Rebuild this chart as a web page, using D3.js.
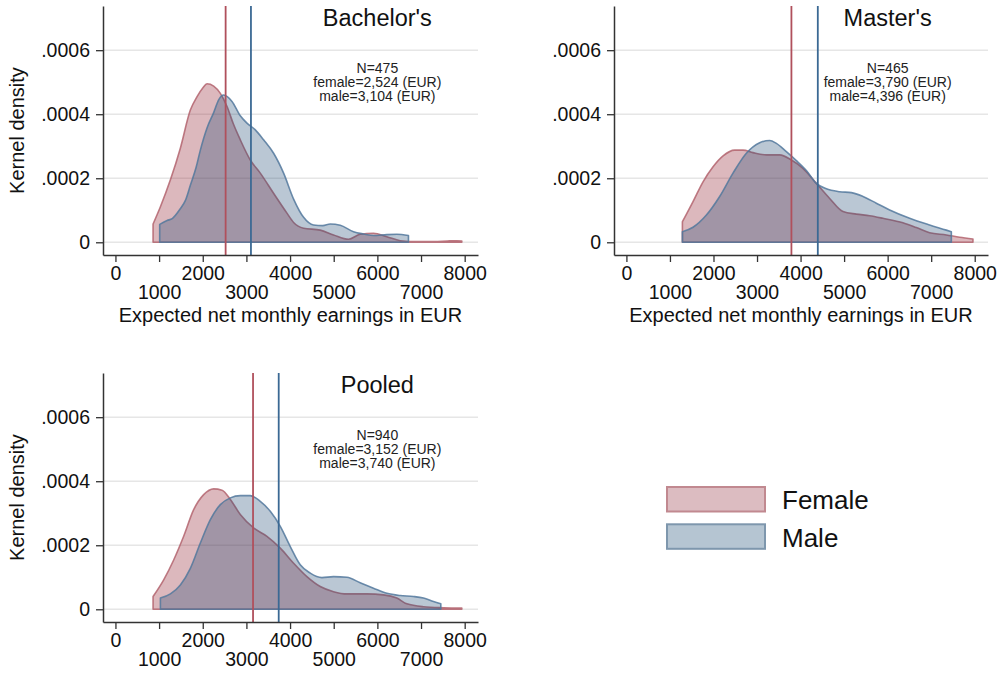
<!DOCTYPE html>
<html>
<head>
<meta charset="utf-8">
<script src="https://cdn.jsdelivr.net/npm/d3@7"></script>
<style>
  html, body { margin: 0; padding: 0; background: #fff; }
  svg { display: block; font-family: "Liberation Sans", Arial, sans-serif; }
</style>
</head>
<body>
<svg id="chart" width="998" height="673"></svg>
<script>
// Kernel density estimates of expected net monthly earnings (EUR), by gender.
// Each series: [earnings, density]
const bachelorFemale = [[862,0.000057],[1030,0.000111],[1259,0.000195],[1487,0.000294],[1716,0.000413],[1870,0.000455],[2000,0.000482],[2098,0.000495],[2250,0.000488],[2403,0.000465],[2556,0.000424],[2700,0.000370],[2860,0.000320],[3089,0.000257],[3318,0.000216],[3622,0.000153],[3929,0.000091],[4081,0.000062],[4310,0.000044],[4691,0.000038],[4996,0.000023],[5339,0.0000094],[5606,0.000025],[5911,0.000028],[6217,0.0000175],[6522,0.000005],[6903,0.000002],[7300,0.000002],[7600,0.000004],[7819,0.000005],[7934,0.000004]];
const bachelorMale = [[1014,0.000056],[1183,0.000068],[1300,0.000074],[1487,0.000105],[1600,0.000130],[1716,0.000178],[1850,0.000235],[1945,0.000288],[2100,0.000358],[2250,0.000405],[2364,0.000445],[2478,0.000460],[2670,0.000440],[2860,0.000395],[3013,0.000372],[3204,0.000351],[3394,0.000320],[3623,0.000278],[3852,0.000216],[4081,0.000135],[4310,0.000078],[4538,0.000054],[4750,0.000052],[4920,0.000057],[5149,0.000053],[5454,0.000033],[5682,0.000026],[5911,0.000021],[6217,0.000024],[6446,0.000025],[6712,0.000021]];
const masterFemale = [[1286,0.000064],[1530,0.000127],[1760,0.000189],[1990,0.000236],[2220,0.000270],[2487,0.000288],[2678,0.000288],[2907,0.000280],[3215,0.000273],[3520,0.000273],[3789,0.000257],[4055,0.000231],[4363,0.000184],[4668,0.000137],[4974,0.000096],[5281,0.000088],[5587,0.000083],[5892,0.000075],[6351,0.000061],[6659,0.000046],[6964,0.000030],[7348,0.000023],[7653,0.0000156],[7959,0.0000103]];
const masterMale = [[1286,0.000033],[1530,0.000047],[1837,0.000085],[2142,0.000143],[2448,0.000216],[2755,0.000278],[3061,0.000311],[3290,0.000318],[3444,0.000309],[3674,0.000283],[3904,0.000255],[4133,0.000224],[4363,0.000184],[4592,0.000167],[4898,0.000158],[5167,0.000155],[5433,0.000143],[5740,0.000122],[6046,0.000101],[6505,0.000075],[6964,0.000054],[7348,0.000038],[7463,0.000033]];
const pooledFemale = [[862,0.000040],[1105,0.000092],[1334,0.000154],[1563,0.000228],[1792,0.000311],[2021,0.000358],[2250,0.000376],[2441,0.000372],[2632,0.000343],[2860,0.000296],[3165,0.000254],[3471,0.000228],[3776,0.000191],[4081,0.000144],[4386,0.000102],[4691,0.000071],[4996,0.000055],[5302,0.000048],[5759,0.000048],[6140,0.000045],[6446,0.000035],[6675,0.000017],[7056,0.000008],[7513,0.000005],[7934,0.000004]];
const pooledMale = [[1030,0.000035],[1259,0.000048],[1487,0.000076],[1716,0.000128],[1945,0.000207],[2174,0.000280],[2403,0.000327],[2632,0.000348],[2860,0.000355],[3089,0.000355],[3318,0.000337],[3547,0.000306],[3776,0.000259],[4005,0.000196],[4233,0.000139],[4462,0.000113],[4730,0.000099],[4996,0.000102],[5302,0.000100],[5606,0.000083],[5911,0.000066],[6217,0.000050],[6522,0.000043],[6827,0.000040],[7056,0.000035],[7285,0.000024],[7453,0.000017]];

// Panel titles, sample sizes and mean earnings
const panelTitles = ["Bachelor's", "Master's", "Pooled"];
const sampleSizes = [475, 465, 940];
const femaleMeans = [2524, 3790, 3152];
const maleMeans = [3104, 4396, 3740];

// Axis ticks
const xTicks = [0, 1000, 2000, 3000, 4000, 5000, 6000, 7000, 8000];
const yTicks = [0, 0.0002, 0.0004, 0.0006];
const legendLabels = ["Female", "Male"];

const svg = d3.select("#chart");
const fmt = d3.format(",");

const colors = {
  femaleFill: "rgb(150,40,55)", maleFill: "rgb(26,71,111)",
  femaleEdge: "#b3646f", maleEdge: "#52789c",
  femaleMean: "#b0505c", maleMean: "#3b6994"
};

const layout = [
  { left: 103, right: 478, top: 6, bottom: 255, yTitle: true, xTitle: true },
  { left: 614, right: 988, top: 6, bottom: 255, yTitle: false, xTitle: true },
  { left: 103, right: 478, top: 373, bottom: 622, yTitle: true, xTitle: false }
];
const series = [[bachelorFemale, bachelorMale], [masterFemale, masterMale], [pooledFemale, pooledMale]];

layout.forEach((p, i) => {
  const x = d3.scaleLinear().domain([-285, 8305]).range([p.left, p.right]);
  const y = d3.scaleLinear().domain([-0.0000397, 0.000738]).range([p.bottom, p.top]);
  const g = svg.append("g");

  // horizontal grid
  g.selectAll("line.grid").data(yTicks).join("line")
    .attr("x1", p.left).attr("x2", p.right)
    .attr("y1", d => y(d)).attr("y2", d => y(d))
    .attr("stroke", "#e6e6e6").attr("stroke-width", 1.5);

  // density areas
  const area = d3.area()
    .x(d => x(d[0])).y0(y(0)).y1(d => y(d[1]))
    .curve(d3.curveMonotoneX);
  const [fem, mal] = series[i];
  g.append("path").datum(fem).attr("d", area)
    .attr("fill", colors.femaleFill).attr("fill-opacity", 0.33)
    .attr("stroke", colors.femaleEdge).attr("stroke-opacity", 0.85).attr("stroke-width", 1.6)
    .attr("stroke-linejoin", "round");
  g.append("path").datum(mal).attr("d", area)
    .attr("fill", colors.maleFill).attr("fill-opacity", 0.3)
    .attr("stroke", colors.maleEdge).attr("stroke-opacity", 0.85).attr("stroke-width", 1.6)
    .attr("stroke-linejoin", "round");

  // mean lines
  [[femaleMeans[i], colors.femaleMean], [maleMeans[i], colors.maleMean]].forEach(([m, c]) => {
    g.append("line")
      .attr("x1", x(m)).attr("x2", x(m))
      .attr("y1", p.top).attr("y2", p.bottom)
      .attr("stroke", c).attr("stroke-width", 1.8);
  });

  // y axis
  const yAxis = d3.axisLeft(y).tickValues(yTicks).tickSize(7).tickSizeOuter(0).tickPadding(6)
    .tickFormat(d => d === 0 ? "0" : d3.format(".4f")(d).replace(/^0/, ""));
  const ya = g.append("g").attr("transform", `translate(${p.left},0)`).call(yAxis);
  ya.select(".domain").attr("stroke", "#333").attr("stroke-width", 1.5);
  ya.selectAll(".tick line").attr("stroke", "#333").attr("stroke-width", 1.3);
  ya.selectAll(".tick text").attr("font-size", "19.5px").attr("fill", "#111")
    .attr("font-family", "Liberation Sans, Arial, sans-serif");

  // x axis: labels alternate between two rows
  const xAxis = d3.axisBottom(x).tickValues(xTicks).tickSize(7).tickSizeOuter(0).tickPadding(5)
    .tickFormat(d3.format("d"));
  const xa = g.append("g").attr("transform", `translate(0,${p.bottom})`).call(xAxis);
  xa.select(".domain").attr("stroke", "#333").attr("stroke-width", 1.5);
  xa.selectAll(".tick line").attr("stroke", "#333").attr("stroke-width", 1.3);
  xa.selectAll(".tick text").attr("font-size", "19.5px").attr("fill", "#111")
    .attr("font-family", "Liberation Sans, Arial, sans-serif")
    .attr("y", d => (d / 1000) % 2 === 0 ? 11 : 30);

  // axis titles
  if (p.yTitle) {
    g.append("text")
      .attr("transform", `translate(${p.left - 79},${(p.top + p.bottom) / 2}) rotate(-90)`)
      .attr("text-anchor", "middle").attr("font-size", "20px").attr("fill", "#111")
      .text("Kernel density");
  }
  if (p.xTitle) {
    g.append("text")
      .attr("x", (p.left + p.right) / 2).attr("y", p.bottom + 67)
      .attr("text-anchor", "middle").attr("font-size", "20px").attr("fill", "#111")
      .text("Expected net monthly earnings in EUR");
  }

  // panel title and summary note
  g.append("text")
    .attr("x", x(6000)).attr("y", y(0.0007) + 8)
    .attr("text-anchor", "middle").attr("font-size", "23.5px").attr("fill", "#111")
    .text(panelTitles[i]);
  const note = [`N=${sampleSizes[i]}`, `female=${fmt(femaleMeans[i])} (EUR)`, `male=${fmt(maleMeans[i])} (EUR)`];
  g.append("g").selectAll("text").data(note).join("text")
    .attr("x", x(6000)).attr("y", (d, k) => y(0.0005) + 4.5 + (k - 1) * 14.2)
    .attr("text-anchor", "middle").attr("font-size", "14px").attr("fill", "#222")
    .text(d => d);
});

// legend
const legend = svg.append("g");
const legendFill = ["#dcbcc1", "#b5c5d2"];
const legendEdge = ["#c18990", "#7e97ad"];
legendLabels.forEach((lab, k) => {
  const top = 486 + k * 37.3;
  legend.append("rect").attr("x", 667).attr("y", top + 1).attr("width", 98).attr("height", 24.5)
    .attr("fill", legendFill[k]).attr("stroke", legendEdge[k]).attr("stroke-width", 2);
  legend.append("text").attr("x", 782).attr("y", top + 23.3)
    .attr("font-size", "26px").attr("fill", "#111").text(lab);
});
</script>
</body>
</html>
